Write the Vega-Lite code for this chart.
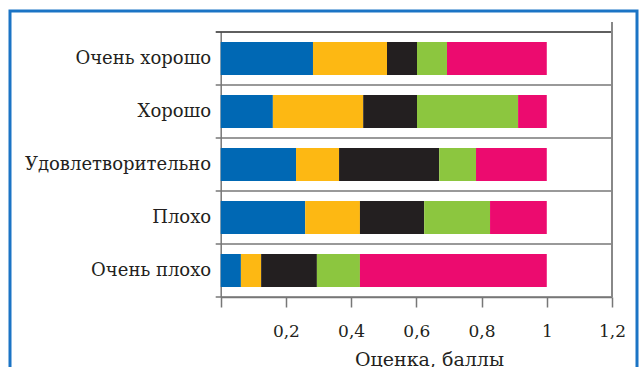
{
  "$schema": "https://vega.github.io/schema/vega-lite/v6.json",
  "width": 627,
  "height": 356,
  "autosize": {"type": "none"},
  "padding": {"left": 10, "top": 11, "right": 2, "bottom": 0},
  "background": "white",
  "config": {
    "view": {"stroke": "#1b74c5", "strokeWidth": 3, "strokeDash": [983, 627, 356]},
    "font": "DejaVu Serif"
  },
  "datasets": {
    "bars": [
      {"category": "Очень хорошо", "segment": "1", "value": 0.283},
      {"category": "Очень хорошо", "segment": "2", "value": 0.227},
      {"category": "Очень хорошо", "segment": "3", "value": 0.092},
      {"category": "Очень хорошо", "segment": "4", "value": 0.092},
      {"category": "Очень хорошо", "segment": "5", "value": 0.306},
      {"category": "Хорошо", "segment": "1", "value": 0.160},
      {"category": "Хорошо", "segment": "2", "value": 0.277},
      {"category": "Хорошо", "segment": "3", "value": 0.165},
      {"category": "Хорошо", "segment": "4", "value": 0.310},
      {"category": "Хорошо", "segment": "5", "value": 0.088},
      {"category": "Удовлетворительно", "segment": "1", "value": 0.231},
      {"category": "Удовлетворительно", "segment": "2", "value": 0.132},
      {"category": "Удовлетворительно", "segment": "3", "value": 0.307},
      {"category": "Удовлетворительно", "segment": "4", "value": 0.113},
      {"category": "Удовлетворительно", "segment": "5", "value": 0.217},
      {"category": "Плохо", "segment": "1", "value": 0.259},
      {"category": "Плохо", "segment": "2", "value": 0.168},
      {"category": "Плохо", "segment": "3", "value": 0.197},
      {"category": "Плохо", "segment": "4", "value": 0.202},
      {"category": "Плохо", "segment": "5", "value": 0.174},
      {"category": "Очень плохо", "segment": "1", "value": 0.062},
      {"category": "Очень плохо", "segment": "2", "value": 0.062},
      {"category": "Очень плохо", "segment": "3", "value": 0.171},
      {"category": "Очень плохо", "segment": "4", "value": 0.132},
      {"category": "Очень плохо", "segment": "5", "value": 0.573}
    ],
    "lines": [{"b": 0}, {"b": 1}, {"b": 2}, {"b": 3}, {"b": 4}, {"b": 5}]
  },
  "layer": [
    {
      "data": {"name": "bars"},
      "mark": {"type": "bar"},
      "encoding": {
        "y": {
          "field": "category",
          "type": "nominal",
          "sort": ["Очень хорошо", "Хорошо", "Удовлетворительно", "Плохо", "Очень плохо"],
          "scale": {"range": [21, 286], "paddingInner": 0.377, "paddingOuter": 0.1885},
          "axis": {
            "title": null,
            "domain": true,
            "domainColor": "#777777",
            "domainWidth": 1.5,
            "ticks": false,
            "labelPadding": 10,
            "labelFontSize": 18,
            "labelColor": "#231f20",
            "labelFont": "DejaVu Serif",
            "labelLimit": 300,
            "offset": -210.7
          }
        },
        "x": {
          "field": "value",
          "type": "quantitative",
          "stack": "zero",
          "scale": {"domain": [0, 1.2], "range": [210.7, 602], "nice": false, "zero": false},
          "axis": {
            "values": [0, 0.2, 0.4, 0.6, 0.8, 1, 1.2],
            "labelExpr": "datum.value == 0 ? '' : replace(format(datum.value, '~g'), '.', ',')",
            "grid": false,
            "domainColor": "#777777",
            "domainWidth": 1.5,
            "tickColor": "#777777",
            "tickWidth": 1.5,
            "tickSize": 10,
            "labelFontSize": 17,
            "labelFont": "DejaVu Serif",
            "labelColor": "#231f20",
            "labelBaseline": "alphabetic",
            "labelPadding": 29,
            "labelFlush": false,
            "labelOverlap": false,
            "title": "Оценка, баллы",
            "titleFont": "DejaVu Serif",
            "titleFontSize": 19,
            "titleFontWeight": "normal",
            "titleColor": "#231f20",
            "titleX": 419,
            "titleY": 68,
            "titleAlign": "center",
            "titleBaseline": "alphabetic",
            "offset": -70
          }
        },
        "color": {
          "field": "segment",
          "type": "nominal",
          "scale": {"domain": ["1", "2", "3", "4", "5"], "range": ["#0068b4", "#fdb813", "#231f20", "#8cc63f", "#ec0b6f"]},
          "legend": null
        },
        "order": {"field": "segment"}
      }
    },
    {
      "layer": [
        {
          "data": {"name": "lines"},
          "mark": {"type": "rule", "strokeWidth": 1.4},
          "encoding": {
            "y": {"field": "b", "type": "quantitative", "scale": {"domain": [0, 5], "range": [21, 286], "nice": false, "zero": false}, "axis": null},
            "x": {"datum": -0.0153},
            "x2": {"datum": 1.2},
            "color": {"condition": {"test": "datum.b == 0", "value": "#2a2a2a"}, "value": "#777777"}
          }
        },
        {
          "data": {"values": [{}]},
          "mark": {"type": "rule", "color": "#888888", "strokeWidth": 2},
          "encoding": {
            "x": {"datum": 1.2},
            "y": {"datum": -0.19},
            "y2": {"datum": 5}
          }
        }
      ]
    }
  ],
  "resolve": {"scale": {"y": "independent"}, "axis": {"y": "independent"}}
}
